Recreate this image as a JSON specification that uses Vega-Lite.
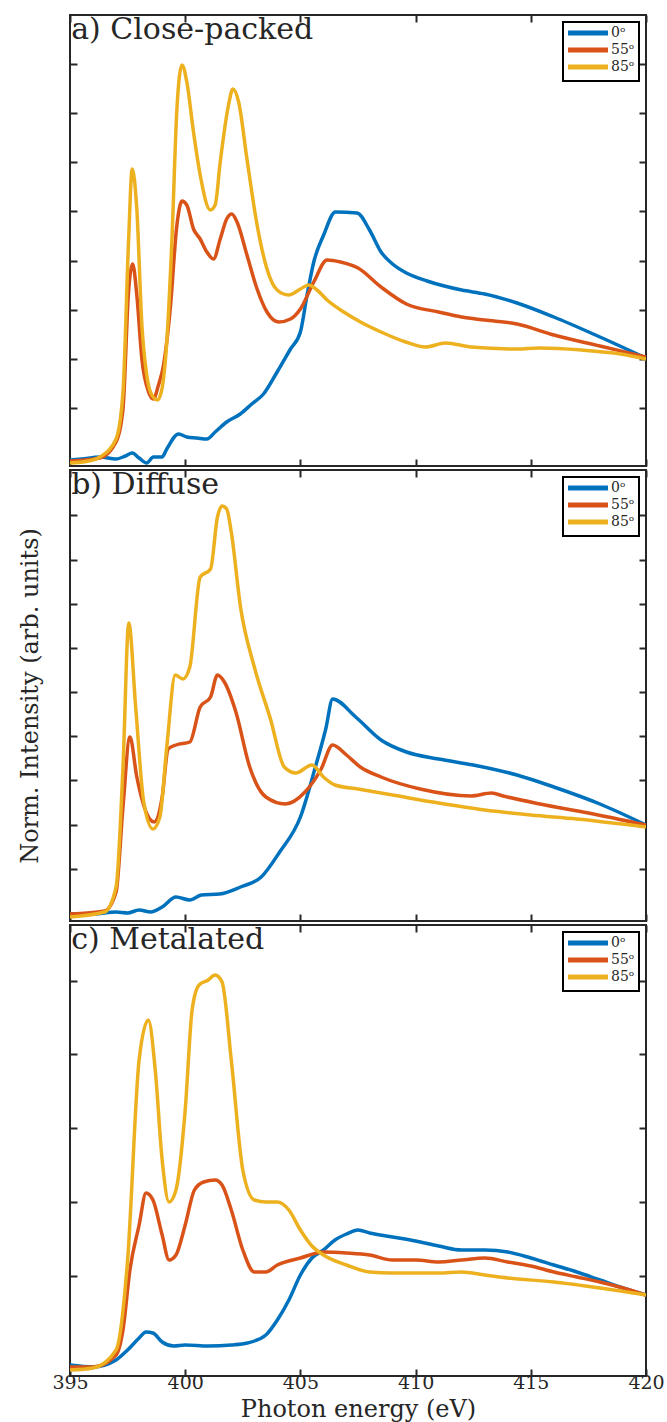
{
  "$schema": "https://vega.github.io/schema/vega-lite/v6.json",
  "padding": {"left": 17, "top": 13, "right": 0, "bottom": 0},
  "background": "white",
  "config": {
    "font": "DejaVu Serif",
    "view": {"stroke": "#262626", "strokeWidth": 2},
    "axis": {"grid": false, "domain": false, "tickColor": "#262626", "tickWidth": 2, "tickSize": -7, "labelFont": "DejaVu Serif", "titleFont": "DejaVu Serif", "labelColor": "#262626", "titleColor": "#262626", "titleFontWeight": "normal"},
    "legend": {"orient": "top-right", "offset": 7, "strokeColor": "black", "strokeWidth": 2, "fillColor": "white", "padding": 4, "symbolType": "M-5,0H5", "symbolStrokeWidth": 5, "symbolSize": 64, "symbolOffset": 14, "labelFont": "DejaVu Serif", "labelFontSize": 14, "labelColor": "#262626", "rowPadding": -3, "labelOffset": 16}
  },
  "datasets": {
    "a": [
      {"e":395.0,"v":0.06,"a":"0ᵒ"},{"e":395.5,"v":0.07,"a":"0ᵒ"},{"e":396.3,"v":0.09,"a":"0ᵒ"},{"e":397.0,"v":0.07,"a":"0ᵒ"},{"e":397.4,"v":0.10,"a":"0ᵒ"},{"e":397.7,"v":0.13,"a":"0ᵒ"},{"e":398.0,"v":0.08,"a":"0ᵒ"},{"e":398.33,"v":0.03,"a":"0ᵒ"},{"e":398.62,"v":0.09,"a":"0ᵒ"},{"e":398.99,"v":0.09,"a":"0ᵒ"},{"e":399.2,"v":0.17,"a":"0ᵒ"},{"e":399.71,"v":0.32,"a":"0ᵒ"},{"e":400.07,"v":0.29,"a":"0ᵒ"},{"e":400.51,"v":0.28,"a":"0ᵒ"},{"e":400.94,"v":0.27,"a":"0ᵒ"},{"e":401.3,"v":0.34,"a":"0ᵒ"},{"e":401.8,"v":0.44,"a":"0ᵒ"},{"e":402.39,"v":0.52,"a":"0ᵒ"},{"e":402.89,"v":0.62,"a":"0ᵒ"},{"e":403.4,"v":0.72,"a":"0ᵒ"},{"e":403.99,"v":0.94,"a":"0ᵒ"},{"e":404.57,"v":1.17,"a":"0ᵒ"},{"e":405.0,"v":1.34,"a":"0ᵒ"},{"e":405.29,"v":1.71,"a":"0ᵒ"},{"e":405.58,"v":2.04,"a":"0ᵒ"},{"e":406.01,"v":2.31,"a":"0ᵒ"},{"e":406.52,"v":2.54,"a":"0ᵒ"},{"e":407.46,"v":2.53,"a":"0ᵒ"},{"e":408.0,"v":2.36,"a":"0ᵒ"},{"e":408.5,"v":2.14,"a":"0ᵒ"},{"e":409.0,"v":2.02,"a":"0ᵒ"},{"e":409.6,"v":1.93,"a":"0ᵒ"},{"e":410.5,"v":1.85,"a":"0ᵒ"},{"e":412.0,"v":1.76,"a":"0ᵒ"},{"e":413.0,"v":1.72,"a":"0ᵒ"},{"e":414.4,"v":1.63,"a":"0ᵒ"},{"e":416.0,"v":1.49,"a":"0ᵒ"},{"e":418.0,"v":1.29,"a":"0ᵒ"},{"e":420.0,"v":1.08,"a":"0ᵒ"},
      {"e":395.0,"v":0.05,"a":"55ᵒ"},{"e":396.3,"v":0.08,"a":"55ᵒ"},{"e":397.0,"v":0.24,"a":"55ᵒ"},{"e":397.3,"v":0.57,"a":"55ᵒ"},{"e":397.54,"v":1.74,"a":"55ᵒ"},{"e":397.72,"v":2.02,"a":"55ᵒ"},{"e":397.9,"v":1.71,"a":"55ᵒ"},{"e":398.12,"v":1.07,"a":"55ᵒ"},{"e":398.41,"v":0.74,"a":"55ᵒ"},{"e":398.62,"v":0.67,"a":"55ᵒ"},{"e":398.84,"v":0.81,"a":"55ᵒ"},{"e":399.06,"v":1.01,"a":"55ᵒ"},{"e":399.35,"v":1.57,"a":"55ᵒ"},{"e":399.64,"v":2.41,"a":"55ᵒ"},{"e":399.86,"v":2.65,"a":"55ᵒ"},{"e":400.07,"v":2.61,"a":"55ᵒ"},{"e":400.36,"v":2.37,"a":"55ᵒ"},{"e":400.65,"v":2.27,"a":"55ᵒ"},{"e":400.94,"v":2.14,"a":"55ᵒ"},{"e":401.23,"v":2.07,"a":"55ᵒ"},{"e":401.52,"v":2.27,"a":"55ᵒ"},{"e":401.8,"v":2.47,"a":"55ᵒ"},{"e":402.02,"v":2.52,"a":"55ᵒ"},{"e":402.25,"v":2.44,"a":"55ᵒ"},{"e":402.68,"v":2.11,"a":"55ᵒ"},{"e":403.12,"v":1.77,"a":"55ᵒ"},{"e":403.55,"v":1.54,"a":"55ᵒ"},{"e":404.06,"v":1.44,"a":"55ᵒ"},{"e":404.57,"v":1.47,"a":"55ᵒ"},{"e":405.0,"v":1.57,"a":"55ᵒ"},{"e":405.58,"v":1.84,"a":"55ᵒ"},{"e":406.16,"v":2.06,"a":"55ᵒ"},{"e":406.74,"v":2.04,"a":"55ᵒ"},{"e":407.5,"v":1.98,"a":"55ᵒ"},{"e":408.5,"v":1.79,"a":"55ᵒ"},{"e":409.6,"v":1.62,"a":"55ᵒ"},{"e":411.0,"v":1.54,"a":"55ᵒ"},{"e":412.0,"v":1.49,"a":"55ᵒ"},{"e":413.0,"v":1.46,"a":"55ᵒ"},{"e":414.4,"v":1.42,"a":"55ᵒ"},{"e":416.0,"v":1.31,"a":"55ᵒ"},{"e":418.0,"v":1.20,"a":"55ᵒ"},{"e":420.0,"v":1.09,"a":"55ᵒ"},
      {"e":395.0,"v":0.03,"a":"85ᵒ"},{"e":395.8,"v":0.05,"a":"85ᵒ"},{"e":396.3,"v":0.09,"a":"85ᵒ"},{"e":397.0,"v":0.27,"a":"85ᵒ"},{"e":397.3,"v":0.74,"a":"85ᵒ"},{"e":397.54,"v":2.24,"a":"85ᵒ"},{"e":397.7,"v":2.97,"a":"85ᵒ"},{"e":397.9,"v":2.57,"a":"85ᵒ"},{"e":398.12,"v":1.41,"a":"85ᵒ"},{"e":398.33,"v":0.91,"a":"85ᵒ"},{"e":398.55,"v":0.71,"a":"85ᵒ"},{"e":398.8,"v":0.66,"a":"85ᵒ"},{"e":398.99,"v":0.77,"a":"85ᵒ"},{"e":399.2,"v":1.24,"a":"85ᵒ"},{"e":399.42,"v":2.24,"a":"85ᵒ"},{"e":399.64,"v":3.57,"a":"85ᵒ"},{"e":399.86,"v":4.01,"a":"85ᵒ"},{"e":400.07,"v":3.84,"a":"85ᵒ"},{"e":400.36,"v":3.34,"a":"85ᵒ"},{"e":400.65,"v":2.91,"a":"85ᵒ"},{"e":401.09,"v":2.56,"a":"85ᵒ"},{"e":401.3,"v":2.61,"a":"85ᵒ"},{"e":401.52,"v":3.04,"a":"85ᵒ"},{"e":401.88,"v":3.61,"a":"85ᵒ"},{"e":402.07,"v":3.77,"a":"85ᵒ"},{"e":402.32,"v":3.64,"a":"85ᵒ"},{"e":402.68,"v":3.07,"a":"85ᵒ"},{"e":403.12,"v":2.41,"a":"85ᵒ"},{"e":403.55,"v":1.97,"a":"85ᵒ"},{"e":403.99,"v":1.76,"a":"85ᵒ"},{"e":404.49,"v":1.71,"a":"85ᵒ"},{"e":405.0,"v":1.77,"a":"85ᵒ"},{"e":405.36,"v":1.81,"a":"85ᵒ"},{"e":405.72,"v":1.76,"a":"85ᵒ"},{"e":406.16,"v":1.66,"a":"85ᵒ"},{"e":406.88,"v":1.54,"a":"85ᵒ"},{"e":407.61,"v":1.44,"a":"85ᵒ"},{"e":408.5,"v":1.34,"a":"85ᵒ"},{"e":409.57,"v":1.24,"a":"85ᵒ"},{"e":410.43,"v":1.19,"a":"85ᵒ"},{"e":411.3,"v":1.23,"a":"85ᵒ"},{"e":412.4,"v":1.19,"a":"85ᵒ"},{"e":414.4,"v":1.17,"a":"85ᵒ"},{"e":415.4,"v":1.18,"a":"85ᵒ"},{"e":417.2,"v":1.16,"a":"85ᵒ"},{"e":418.9,"v":1.12,"a":"85ᵒ"},{"e":420.0,"v":1.07,"a":"85ᵒ"}
    ],
    "b": [
      {"e":395.0,"v":0.07,"a":"0ᵒ"},{"e":396.0,"v":0.07,"a":"0ᵒ"},{"e":397.0,"v":0.09,"a":"0ᵒ"},{"e":397.5,"v":0.08,"a":"0ᵒ"},{"e":398.0,"v":0.11,"a":"0ᵒ"},{"e":398.5,"v":0.09,"a":"0ᵒ"},{"e":399.0,"v":0.14,"a":"0ᵒ"},{"e":399.6,"v":0.24,"a":"0ᵒ"},{"e":400.2,"v":0.21,"a":"0ᵒ"},{"e":400.7,"v":0.26,"a":"0ᵒ"},{"e":401.5,"v":0.27,"a":"0ᵒ"},{"e":402.4,"v":0.34,"a":"0ᵒ"},{"e":403.3,"v":0.44,"a":"0ᵒ"},{"e":404.1,"v":0.69,"a":"0ᵒ"},{"e":405.0,"v":1.04,"a":"0ᵒ"},{"e":405.65,"v":1.54,"a":"0ᵒ"},{"e":406.1,"v":1.92,"a":"0ᵒ"},{"e":406.4,"v":2.22,"a":"0ᵒ"},{"e":407.4,"v":2.04,"a":"0ᵒ"},{"e":408.5,"v":1.81,"a":"0ᵒ"},{"e":409.6,"v":1.69,"a":"0ᵒ"},{"e":411.0,"v":1.62,"a":"0ᵒ"},{"e":412.5,"v":1.56,"a":"0ᵒ"},{"e":414.4,"v":1.46,"a":"0ᵒ"},{"e":416.0,"v":1.34,"a":"0ᵒ"},{"e":418.0,"v":1.17,"a":"0ᵒ"},{"e":420.0,"v":0.96,"a":"0ᵒ"},
      {"e":395.0,"v":0.07,"a":"55ᵒ"},{"e":396.5,"v":0.10,"a":"55ᵒ"},{"e":397.0,"v":0.29,"a":"55ᵒ"},{"e":397.3,"v":1.14,"a":"55ᵒ"},{"e":397.6,"v":1.84,"a":"55ᵒ"},{"e":397.9,"v":1.44,"a":"55ᵒ"},{"e":398.3,"v":1.09,"a":"55ᵒ"},{"e":398.65,"v":0.99,"a":"55ᵒ"},{"e":399.0,"v":1.24,"a":"55ᵒ"},{"e":399.26,"v":1.72,"a":"55ᵒ"},{"e":399.6,"v":1.76,"a":"55ᵒ"},{"e":400.2,"v":1.79,"a":"55ᵒ"},{"e":400.65,"v":2.14,"a":"55ᵒ"},{"e":401.1,"v":2.24,"a":"55ᵒ"},{"e":401.4,"v":2.46,"a":"55ᵒ"},{"e":401.7,"v":2.39,"a":"55ᵒ"},{"e":402.2,"v":2.09,"a":"55ᵒ"},{"e":402.8,"v":1.54,"a":"55ᵒ"},{"e":403.5,"v":1.24,"a":"55ᵒ"},{"e":404.35,"v":1.17,"a":"55ᵒ"},{"e":405.2,"v":1.29,"a":"55ᵒ"},{"e":405.9,"v":1.52,"a":"55ᵒ"},{"e":406.4,"v":1.76,"a":"55ᵒ"},{"e":407.0,"v":1.66,"a":"55ᵒ"},{"e":407.6,"v":1.54,"a":"55ᵒ"},{"e":408.5,"v":1.44,"a":"55ᵒ"},{"e":410.2,"v":1.32,"a":"55ᵒ"},{"e":412.4,"v":1.25,"a":"55ᵒ"},{"e":413.3,"v":1.28,"a":"55ᵒ"},{"e":413.8,"v":1.25,"a":"55ᵒ"},{"e":415.4,"v":1.17,"a":"55ᵒ"},{"e":417.5,"v":1.08,"a":"55ᵒ"},{"e":420.0,"v":0.96,"a":"55ᵒ"},
      {"e":395.0,"v":0.04,"a":"85ᵒ"},{"e":396.5,"v":0.09,"a":"85ᵒ"},{"e":397.0,"v":0.34,"a":"85ᵒ"},{"e":397.3,"v":1.54,"a":"85ᵒ"},{"e":397.55,"v":2.98,"a":"85ᵒ"},{"e":397.85,"v":2.14,"a":"85ᵒ"},{"e":398.2,"v":1.19,"a":"85ᵒ"},{"e":398.6,"v":0.92,"a":"85ᵒ"},{"e":398.9,"v":1.04,"a":"85ᵒ"},{"e":399.2,"v":1.74,"a":"85ᵒ"},{"e":399.57,"v":2.46,"a":"85ᵒ"},{"e":399.9,"v":2.42,"a":"85ᵒ"},{"e":400.2,"v":2.54,"a":"85ᵒ"},{"e":400.65,"v":3.44,"a":"85ᵒ"},{"e":401.1,"v":3.52,"a":"85ᵒ"},{"e":401.4,"v":4.04,"a":"85ᵒ"},{"e":401.6,"v":4.15,"a":"85ᵒ"},{"e":401.8,"v":4.12,"a":"85ᵒ"},{"e":402.0,"v":3.89,"a":"85ᵒ"},{"e":402.4,"v":3.14,"a":"85ᵒ"},{"e":403.0,"v":2.54,"a":"85ᵒ"},{"e":403.7,"v":2.02,"a":"85ᵒ"},{"e":404.3,"v":1.54,"a":"85ᵒ"},{"e":404.8,"v":1.48,"a":"85ᵒ"},{"e":405.5,"v":1.56,"a":"85ᵒ"},{"e":406.0,"v":1.44,"a":"85ᵒ"},{"e":406.5,"v":1.36,"a":"85ᵒ"},{"e":407.5,"v":1.32,"a":"85ᵒ"},{"e":409.0,"v":1.26,"a":"85ᵒ"},{"e":411.0,"v":1.18,"a":"85ᵒ"},{"e":413.0,"v":1.11,"a":"85ᵒ"},{"e":415.0,"v":1.06,"a":"85ᵒ"},{"e":417.0,"v":1.02,"a":"85ᵒ"},{"e":420.0,"v":0.94,"a":"85ᵒ"}
    ],
    "c": [
      {"e":395.0,"v":0.11,"a":"0ᵒ"},{"e":396.0,"v":0.09,"a":"0ᵒ"},{"e":397.0,"v":0.16,"a":"0ᵒ"},{"e":397.5,"v":0.26,"a":"0ᵒ"},{"e":398.0,"v":0.38,"a":"0ᵒ"},{"e":398.3,"v":0.44,"a":"0ᵒ"},{"e":398.6,"v":0.43,"a":"0ᵒ"},{"e":399.0,"v":0.34,"a":"0ᵒ"},{"e":399.5,"v":0.30,"a":"0ᵒ"},{"e":400.0,"v":0.31,"a":"0ᵒ"},{"e":401.0,"v":0.30,"a":"0ᵒ"},{"e":402.0,"v":0.31,"a":"0ᵒ"},{"e":402.7,"v":0.33,"a":"0ᵒ"},{"e":403.5,"v":0.41,"a":"0ᵒ"},{"e":404.0,"v":0.56,"a":"0ᵒ"},{"e":404.5,"v":0.76,"a":"0ᵒ"},{"e":405.0,"v":1.01,"a":"0ᵒ"},{"e":405.5,"v":1.18,"a":"0ᵒ"},{"e":406.0,"v":1.26,"a":"0ᵒ"},{"e":406.5,"v":1.36,"a":"0ᵒ"},{"e":407.0,"v":1.42,"a":"0ᵒ"},{"e":407.5,"v":1.46,"a":"0ᵒ"},{"e":408.0,"v":1.43,"a":"0ᵒ"},{"e":409.0,"v":1.39,"a":"0ᵒ"},{"e":410.0,"v":1.35,"a":"0ᵒ"},{"e":411.0,"v":1.30,"a":"0ᵒ"},{"e":412.0,"v":1.26,"a":"0ᵒ"},{"e":413.0,"v":1.26,"a":"0ᵒ"},{"e":414.0,"v":1.24,"a":"0ᵒ"},{"e":415.0,"v":1.18,"a":"0ᵒ"},{"e":416.0,"v":1.11,"a":"0ᵒ"},{"e":417.0,"v":1.04,"a":"0ᵒ"},{"e":418.0,"v":0.96,"a":"0ᵒ"},{"e":419.0,"v":0.88,"a":"0ᵒ"},{"e":420.0,"v":0.81,"a":"0ᵒ"},
      {"e":395.0,"v":0.09,"a":"55ᵒ"},{"e":396.0,"v":0.09,"a":"55ᵒ"},{"e":397.0,"v":0.21,"a":"55ᵒ"},{"e":397.3,"v":0.46,"a":"55ᵒ"},{"e":397.6,"v":1.06,"a":"55ᵒ"},{"e":398.0,"v":1.51,"a":"55ᵒ"},{"e":398.3,"v":1.83,"a":"55ᵒ"},{"e":398.6,"v":1.76,"a":"55ᵒ"},{"e":399.0,"v":1.41,"a":"55ᵒ"},{"e":399.3,"v":1.16,"a":"55ᵒ"},{"e":399.6,"v":1.21,"a":"55ᵒ"},{"e":400.0,"v":1.51,"a":"55ᵒ"},{"e":400.4,"v":1.86,"a":"55ᵒ"},{"e":400.8,"v":1.94,"a":"55ᵒ"},{"e":401.3,"v":1.96,"a":"55ᵒ"},{"e":401.6,"v":1.91,"a":"55ᵒ"},{"e":402.0,"v":1.66,"a":"55ᵒ"},{"e":402.5,"v":1.26,"a":"55ᵒ"},{"e":403.0,"v":1.04,"a":"55ᵒ"},{"e":403.5,"v":1.04,"a":"55ᵒ"},{"e":404.0,"v":1.11,"a":"55ᵒ"},{"e":405.0,"v":1.18,"a":"55ᵒ"},{"e":406.0,"v":1.24,"a":"55ᵒ"},{"e":407.0,"v":1.23,"a":"55ᵒ"},{"e":408.0,"v":1.21,"a":"55ᵒ"},{"e":409.0,"v":1.16,"a":"55ᵒ"},{"e":410.0,"v":1.16,"a":"55ᵒ"},{"e":411.0,"v":1.14,"a":"55ᵒ"},{"e":412.0,"v":1.16,"a":"55ᵒ"},{"e":413.0,"v":1.18,"a":"55ᵒ"},{"e":414.0,"v":1.14,"a":"55ᵒ"},{"e":415.0,"v":1.10,"a":"55ᵒ"},{"e":416.0,"v":1.04,"a":"55ᵒ"},{"e":417.0,"v":0.99,"a":"55ᵒ"},{"e":418.0,"v":0.94,"a":"55ᵒ"},{"e":419.0,"v":0.88,"a":"55ᵒ"},{"e":420.0,"v":0.81,"a":"55ᵒ"},
      {"e":395.0,"v":0.06,"a":"85ᵒ"},{"e":396.0,"v":0.08,"a":"85ᵒ"},{"e":397.0,"v":0.26,"a":"85ᵒ"},{"e":397.5,"v":1.16,"a":"85ᵒ"},{"e":398.0,"v":3.16,"a":"85ᵒ"},{"e":398.4,"v":3.56,"a":"85ᵒ"},{"e":398.7,"v":3.06,"a":"85ᵒ"},{"e":399.0,"v":2.16,"a":"85ᵒ"},{"e":399.3,"v":1.74,"a":"85ᵒ"},{"e":399.6,"v":1.86,"a":"85ᵒ"},{"e":400.0,"v":2.66,"a":"85ᵒ"},{"e":400.3,"v":3.66,"a":"85ᵒ"},{"e":400.6,"v":3.91,"a":"85ᵒ"},{"e":401.0,"v":3.96,"a":"85ᵒ"},{"e":401.3,"v":4.01,"a":"85ᵒ"},{"e":401.6,"v":3.94,"a":"85ᵒ"},{"e":402.0,"v":3.16,"a":"85ᵒ"},{"e":402.5,"v":2.06,"a":"85ᵒ"},{"e":403.0,"v":1.76,"a":"85ᵒ"},{"e":403.5,"v":1.74,"a":"85ᵒ"},{"e":404.0,"v":1.74,"a":"85ᵒ"},{"e":404.5,"v":1.66,"a":"85ᵒ"},{"e":405.0,"v":1.46,"a":"85ᵒ"},{"e":405.5,"v":1.30,"a":"85ᵒ"},{"e":406.0,"v":1.21,"a":"85ᵒ"},{"e":407.0,"v":1.11,"a":"85ᵒ"},{"e":408.0,"v":1.04,"a":"85ᵒ"},{"e":409.0,"v":1.03,"a":"85ᵒ"},{"e":411.0,"v":1.03,"a":"85ᵒ"},{"e":412.0,"v":1.04,"a":"85ᵒ"},{"e":413.0,"v":1.01,"a":"85ᵒ"},{"e":414.0,"v":0.98,"a":"85ᵒ"},{"e":416.0,"v":0.94,"a":"85ᵒ"},{"e":418.0,"v":0.88,"a":"85ᵒ"},{"e":420.0,"v":0.81,"a":"85ᵒ"}
    ]
  },
  "spacing": 0,
  "resolve": {"scale": {"color": "independent", "y": "independent"}, "legend": {"color": "independent"}},
  "vconcat": [
    {
      "width": 576, "height": 451,
      "layer": [
        {"data": {"name": "a"}, "mark": {"type": "line", "strokeWidth": 3.5, "clip": true, "interpolate": "monotone"},
         "encoding": {
           "x": {"field": "e", "type": "quantitative", "scale": {"domain": [395, 420], "nice": false, "zero": false}, "axis": {"orient": "bottom", "values": [395,400,405,410,415,420], "labels": false, "title": null}},
           "y": {"field": "v", "type": "quantitative", "scale": {"domain": [0, 4.51], "nice": false}, "axis": {"orient": "left", "values": [0.58,1.07,1.56,2.05,2.55,3.04,3.53,4.02], "labels": false, "title": null}},
           "color": {"field": "a", "type": "nominal", "scale": {"domain": ["0ᵒ","55ᵒ","85ᵒ"], "range": ["#0072BD","#D95319","#EDB120"]}, "legend": {"title": null}}
         }},
        {"data": {"name": "a"}, "mark": {"type": "point", "opacity": 0},
         "encoding": {
           "x": {"field": "e", "type": "quantitative", "axis": {"orient": "top", "values": [395,400,405,410,415,420], "labels": false, "title": null}},
           "y": {"field": "v", "type": "quantitative", "axis": {"orient": "right", "values": [0.58,1.07,1.56,2.05,2.55,3.04,3.53,4.02], "labels": false, "title": null}}
         }},
        {"data": {"values": [{"e": 395.05, "v": 4.51, "t": "a) Close-packed"}]}, "mark": {"type": "text", "align": "left", "baseline": "top", "fontSize": 30, "font": "DejaVu Serif", "color": "#262626"},
         "encoding": {"x": {"field": "e", "type": "quantitative", "axis": null}, "y": {"field": "v", "type": "quantitative", "axis": null}, "text": {"field": "t"}}}
      ]
    },
    {
      "width": 576, "height": 451,
      "layer": [
        {"data": {"name": "b"}, "mark": {"type": "line", "strokeWidth": 3.5, "clip": true, "interpolate": "monotone"},
         "encoding": {
           "x": {"field": "e", "type": "quantitative", "scale": {"domain": [395, 420], "nice": false, "zero": false}, "axis": {"orient": "bottom", "values": [395,400,405,410,415,420], "labels": false, "title": null}},
           "y": {"field": "v", "type": "quantitative", "scale": {"domain": [0, 4.51], "nice": false}, "axis": {"orient": "left", "values": [0.52,0.96,1.41,1.85,2.29,2.73,3.17,3.61,4.06], "labels": false, "title": "Norm. Intensity (arb. units)", "titleFontSize": 24, "titlePadding": 27}},
           "color": {"field": "a", "type": "nominal", "scale": {"domain": ["0ᵒ","55ᵒ","85ᵒ"], "range": ["#0072BD","#D95319","#EDB120"]}, "legend": {"title": null}}
         }},
        {"data": {"name": "b"}, "mark": {"type": "point", "opacity": 0},
         "encoding": {
           "x": {"field": "e", "type": "quantitative", "axis": {"orient": "top", "values": [395,400,405,410,415,420], "labels": false, "title": null}},
           "y": {"field": "v", "type": "quantitative", "axis": {"orient": "right", "values": [0.52,0.96,1.41,1.85,2.29,2.73,3.17,3.61,4.06], "labels": false, "title": null}}
         }},
        {"data": {"values": [{"e": 395.05, "v": 4.51, "t": "b) Diffuse"}]}, "mark": {"type": "text", "align": "left", "baseline": "top", "fontSize": 30, "font": "DejaVu Serif", "color": "#262626"},
         "encoding": {"x": {"field": "e", "type": "quantitative", "axis": null}, "y": {"field": "v", "type": "quantitative", "axis": null}, "text": {"field": "t"}}}
      ]
    },
    {
      "width": 576, "height": 451,
      "layer": [
        {"data": {"name": "c"}, "mark": {"type": "line", "strokeWidth": 3.5, "clip": true, "interpolate": "monotone"},
         "encoding": {
           "x": {"field": "e", "type": "quantitative", "scale": {"domain": [395, 420], "nice": false, "zero": false}, "axis": {"orient": "bottom", "values": [395,400,405,410,415,420], "labels": true, "labelFlush": false, "labelFontSize": 19, "labelPadding": 4, "title": "Photon energy (eV)", "titleFontSize": 24, "titlePadding": 5}},
           "y": {"field": "v", "type": "quantitative", "scale": {"domain": [0, 4.51], "nice": false}, "axis": {"orient": "left", "values": [1.0,1.74,2.48,3.22,3.95], "labels": false, "title": null}},
           "color": {"field": "a", "type": "nominal", "scale": {"domain": ["0ᵒ","55ᵒ","85ᵒ"], "range": ["#0072BD","#D95319","#EDB120"]}, "legend": {"title": null}}
         }},
        {"data": {"name": "c"}, "mark": {"type": "point", "opacity": 0},
         "encoding": {
           "x": {"field": "e", "type": "quantitative", "axis": {"orient": "top", "values": [395,400,405,410,415,420], "labels": false, "title": null}},
           "y": {"field": "v", "type": "quantitative", "axis": {"orient": "right", "values": [1.0,1.74,2.48,3.22,3.95], "labels": false, "title": null}}
         }},
        {"data": {"values": [{"e": 395.05, "v": 4.51, "t": "c) Metalated"}]}, "mark": {"type": "text", "align": "left", "baseline": "top", "fontSize": 30, "font": "DejaVu Serif", "color": "#262626"},
         "encoding": {"x": {"field": "e", "type": "quantitative", "axis": null}, "y": {"field": "v", "type": "quantitative", "axis": null}, "text": {"field": "t"}}}
      ]
    }
  ]
}
